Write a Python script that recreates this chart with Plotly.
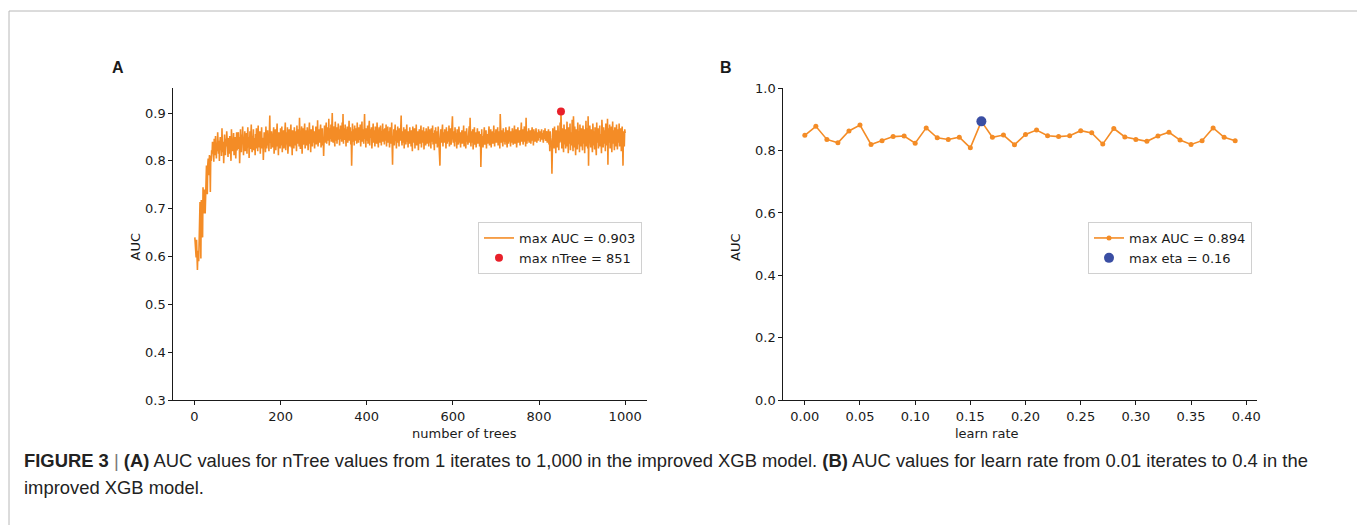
import plotly.graph_objects as go

# panel A: AUC (x1000) for nTree = 1..1000
auc_trees = [
    640, 615, 622, 598, 635, 580, 572, 603, 612, 590,
    665, 630, 714, 662, 596, 718, 650, 700, 640, 745,
    700, 690, 740, 722, 690, 768, 745, 790, 760, 730,
    792, 805, 770, 798, 812, 790, 735, 810, 800, 822,
    815, 840, 808, 831, 798, 846, 825, 812, 852, 830, 805, 838, 820, 860, 828, 815, 842, 800, 835, 850,
    822, 845, 810, 868, 832, 818, 840, 795, 836, 855, 828, 812, 846, 830, 862, 820, 838, 808, 848, 833,
    815, 852, 826, 840, 800, 866, 835, 820, 845, 828, 858, 812, 840, 825, 850, 805, 838, 860, 822, 842,
    838, 860, 825, 850, 795, 842, 866, 830, 818, 855, 840, 872, 826, 812, 848, 835, 862, 820, 845, 830,
    858, 815, 842, 870, 828, 850, 806, 838, 862, 825, 845, 876, 832, 818, 852, 840, 866, 822, 836, 848,
    812, 856, 835, 868, 826, 845, 820, 874, 838, 850, 828, 862, 815, 844, 832, 870, 826, 848, 836, 802,
    846, 860, 830, 855, 818, 872, 840, 826, 852, 864, 832, 845, 820, 868, 895, 838, 850, 825, 862, 840,
    828, 856, 842, 870, 815, 848, 835, 866, 822, 852, 840, 878, 830, 846, 812, 860, 838, 855, 826, 868,
    845, 832, 872, 818, 856, 840, 864, 826, 850, 836, 880, 822, 848, 860, 834, 870, 815, 852, 842, 866,
    830, 858, 845, 876, 828, 850, 812, 864, 838, 855, 826, 870, 844, 832, 862, 848, 820, 874, 836, 852,
    842, 866, 830, 890, 848, 825, 860, 838, 872, 815, 850, 868, 834, 856, 842, 878, 826, 852, 845, 864,
    832, 870, 848, 822, 858, 840, 880, 836, 852, 818, 866, 844, 860, 830, 874, 848, 838, 862, 826, 856,
    846, 872, 834, 858, 842, 885, 830, 852, 866, 838, 860, 845, 876, 828, 854, 840, 868, 832, 850, 810,
    848, 874, 838, 862, 852, 880, 836, 858, 845, 870, 842, 888, 832, 856, 868, 846, 876, 840, 860, 900,
    852, 838, 872, 848, 864, 830, 882, 856, 842, 870, 836, 860, 852, 878, 844, 866, 832, 858, 874, 846,
    862, 840, 880, 850, 898, 836, 868, 852, 844, 876, 858, 830, 866, 848, 872, 838, 860, 852, 884, 842,
    856, 870, 834, 862, 790, 848, 878, 840, 858, 866, 832, 874, 850, 842, 868, 856, 836, 880, 846, 862,
    838, 870, 852, 844, 876, 830, 860, 848, 882, 840, 866, 854, 836, 872, 898, 846, 858, 828, 868, 850,
    842, 874, 836, 860, 852, 884, 832, 866, 848, 856, 870, 826, 862, 844, 878, 838, 854, 864, 830, 872,
    848, 858, 836, 880, 842, 866, 828, 856, 870, 846, 838, 874, 852, 832, 862, 848, 878, 840, 856, 866,
    834, 868, 850, 842, 876, 830, 858, 846, 872, 838, 862, 854, 828, 870, 844, 858, 836, 880, 848, 792,
    852, 840, 866, 832, 858, 876, 842, 850, 826, 864, 846, 872, 838, 856, 830, 868, 850, 842, 874, 895,
    846, 832, 862, 850, 838, 870, 826, 856, 844, 866, 834, 852, 876, 840, 858, 828, 862, 848, 836, 870,
    842, 856, 830, 864, 848, 820, 872, 838, 852, 844, 868, 826, 858, 840, 876, 832, 854, 846, 862, 822,
    850, 866, 836, 858, 842, 874, 828, 852, 864, 838, 846, 870, 824, 856, 840, 862, 832, 868, 848, 836,
    860, 844, 872, 830, 852, 866, 838, 856, 826, 868, 846, 840, 874, 834, 858, 850, 822, 864, 842, 870,
    836, 852, 862, 828, 846, 872, 840, 858, 832, 790, 850, 866, 838, 854, 844, 876, 830, 860, 848, 838,
    866, 842, 856, 826, 870, 848, 836, 862, 852, 840, 874, 830, 858, 846, 868, 834, 856, 842, 893, 850,
    838, 862, 846, 830, 870, 852, 840, 858, 826, 866, 844, 852, 834, 872, 848, 838, 860, 828, 856, 846,
    864, 836, 850, 842, 874, 830, 856, 846, 862, 826, 852, 868, 840, 848, 834, 860, 844, 872, 838, 890,
    852, 830, 862, 846, 838, 866, 824, 854, 842, 870, 834, 850, 860, 828, 856, 844, 868, 836, 852, 840,
    862, 830, 848, 856, 787, 846, 866, 838, 852, 828, 860, 844, 870, 834, 850, 842, 864, 826, 856, 848,
    836, 860, 846, 872, 832, 852, 840, 866, 828, 856, 844, 862, 836, 850, 874, 842, 830, 858, 848, 866,
    838, 854, 842, 870, 832, 856, 848, 862, 826, 898, 850, 838, 864, 844, 856, 830, 868, 846, 840, 860,
    834, 852, 870, 842, 858, 828, 864, 848, 836, 856, 872, 840, 850, 830, 862, 846, 838, 868, 852, 834,
    860, 846, 874, 836, 852, 842, 866, 828, 858, 848, 870, 838, 854, 844, 864, 832, 856, 850, 880, 840,
    852, 866, 834, 858, 846, 872, 840, 854, 830, 890, 848, 836, 862, 852, 842, 868, 838, 856, 846, 864,
    836, 858, 850, 870, 842, 856, 832, 866, 848, 862, 840, 854, 868, 846, 838, 860, 850, 842, 866, 856,
    848, 862, 840, 856, 852, 866, 844, 858, 850, 838, 864, 852, 846, 868, 842, 856, 848, 862, 838, 852,
    846, 866, 834, 856, 820, 862, 848, 840, 830, 773, 850, 868, 838, 856, 826, 872, 844, 852, 816, 864,
    836, 858, 828, 874, 846, 822, 862, 838, 880, 840, 903, 850, 826, 868, 842, 856, 818, 876, 848, 834,
    866, 826, 854, 844, 882, 830, 858, 816, 870, 846, 836, 878, 822, 860, 850, 832, 886, 842, 820, 893,
    856, 828, 872, 844, 812, 866, 838, 858, 824, 880, 850, 834, 862, 818, 876, 846, 830, 868, 840, 856,
    822, 874, 848, 836, 866, 816, 858, 842, 884, 830, 852, 868, 826, 893, 790, 860, 838, 874, 846, 828,
    866, 840, 856, 818, 878, 850, 832, 862, 824, 870, 844, 856, 812, 880, 838, 852, 868, 826, 858, 842,
    874, 830, 856, 846, 816, 886, 840, 862, 828, 870, 852, 836, 864, 820, 878, 846, 858, 832, 888, 792,
    868, 838, 852, 876, 826, 860, 844, 872, 818, 856, 882, 836, 864, 848, 822, 870, 842, 858, 830, 876,
    846, 824, 866, 852, 838, 878, 830, 860, 844, 868, 820, 856, 872, 836, 790, 862, 848, 830, 866, 858,
]
n_trees = list(range(1, len(auc_trees) + 1))
auc_trees = [v / 1000 for v in auc_trees]
best_tree = 851
best_tree_auc = 0.903

# panel B: AUC for learn rate 0.00..0.39
learn_rate = [round(i * 0.01, 2) for i in range(40)]
auc_eta = [0.849, 0.878, 0.836, 0.825, 0.863, 0.882, 0.820, 0.832, 0.845, 0.847,
           0.824, 0.873, 0.841, 0.836, 0.843, 0.809, 0.894, 0.843, 0.850, 0.819,
           0.852, 0.866, 0.848, 0.845, 0.848, 0.864, 0.857, 0.821, 0.871, 0.844,
           0.836, 0.830, 0.847, 0.859, 0.834, 0.820, 0.832, 0.873, 0.843, 0.832]
best_eta = 0.16
best_eta_auc = 0.894

orange = '#f48c26'
ink = '#1a1a1a'
W, H = 1357, 525

fig = go.Figure()
fig.add_trace(go.Scatter(x=n_trees, y=auc_trees, mode='lines', name='max AUC = 0.903',
                         line=dict(color=orange, width=1.6), xaxis='x', yaxis='y', legend='legend'))
fig.add_trace(go.Scatter(x=[best_tree], y=[best_tree_auc], mode='markers', name='max nTree = 851',
                         marker=dict(color='#e8202a', size=8), xaxis='x', yaxis='y', legend='legend'))
fig.add_trace(go.Scatter(x=learn_rate, y=auc_eta, mode='lines+markers', name='max AUC = 0.894',
                         line=dict(color=orange, width=1.6), marker=dict(color=orange, size=5),
                         xaxis='x2', yaxis='y2', legend='legend2'))
fig.add_trace(go.Scatter(x=[best_eta], y=[best_eta_auc], mode='markers', name='max eta = 0.16',
                         marker=dict(color='#3a4ea3', size=10), xaxis='x2', yaxis='y2', legend='legend2'))

ax = dict(showline=True, linecolor=ink, linewidth=1, ticks='outside', ticklen=4, tickcolor=ink,
          showgrid=False, zeroline=False, automargin=False, tickfont=dict(size=13, color=ink))
ydom = [1 - 400 / H, 1 - 88.3 / H]

fig.update_layout(
    width=W, height=H, margin=dict(l=0, r=0, t=0, b=0),
    paper_bgcolor='white', plot_bgcolor='white',
    font=dict(family='DejaVu Sans', size=13, color=ink),
    xaxis=dict(ax, domain=[173.3 / W, 646.7 / W], range=[-49, 1050], tickvals=[0, 200, 400, 600, 800, 1000]),
    yaxis=dict(ax, domain=ydom, range=[0.3, 0.9517], tickvals=[0.3, 0.4, 0.5, 0.6, 0.7, 0.8, 0.9],
               tickformat='.1f'),
    xaxis2=dict(ax, domain=[783.3 / W, 1256.7 / W], range=[-0.0195, 0.4095],
                tickvals=[0, 0.05, 0.1, 0.15, 0.2, 0.25, 0.3, 0.35, 0.4], tickformat='.2f', anchor='y2'),
    yaxis2=dict(ax, domain=ydom, range=[0, 1.0], tickvals=[0, 0.2, 0.4, 0.6, 0.8, 1.0],
                tickformat='.1f', anchor='x2'),
    legend=dict(x=478 / W, y=1 - 222 / H, xanchor='left', yanchor='top', bgcolor='white',
                bordercolor='#d0d0d0', borderwidth=1, font=dict(size=13, color=ink)),
    legend2=dict(x=1088 / W, y=1 - 222 / H, xanchor='left', yanchor='top', bgcolor='white',
                 bordercolor='#d0d0d0', borderwidth=1, font=dict(size=13, color=ink)),
)

# outer frame
fig.add_shape(type='rect', xref='paper', yref='paper', x0=9 / W, x1=1.01, y0=-0.05, y1=1 - 11 / H,
              line=dict(color='#b8b8b8', width=1))

notes = [
    ('<b>A</b>', 110, 67, 16, 'Liberation Sans', 0),
    ('<b>B</b>', 726, 67, 16, 'Liberation Sans', 0),
    ('number of trees', 410, 433, 13, 'DejaVu Sans', 0),
    ('learn rate', 1020, 433, 13, 'DejaVu Sans', 0),
    ('AUC', 125, 247, 13, 'DejaVu Sans', -90),
    ('AUC', 735, 247, 13, 'DejaVu Sans', -90),
]
for txt, px, py, sz, fam, ang in notes:
    fig.add_annotation(text=txt, x=px / W, y=1 - py / H, xref='paper', yref='paper', showarrow=False,
                       textangle=ang, yanchor='middle', font=dict(size=sz, family=fam, color=ink))

caption1 = ('<b>FIGURE 3</b> <span style="color:#777">|</span> <b>(A)</b> AUC values for nTree values from 1 iterates '
            'to 1,000 in the improved XGB model. <b>(B)</b> AUC values for learn rate from 0.01 iterates to 0.4 in the')
caption2 = 'improved XGB model.'
for txt, py in [(caption1, 460), (caption2, 487)]:
    fig.add_annotation(text=txt, x=22 / W, y=1 - py / H, xref='paper', yref='paper', showarrow=False,
                       xanchor='left', yanchor='middle',
                       font=dict(size=18.4, family='Liberation Sans', color='#222'))

# no default page margin so the figure sits at the window's top-left corner
fig.write_html("out.html", config={'displayModeBar': False},
               post_script="document.body.style.margin='0';")
